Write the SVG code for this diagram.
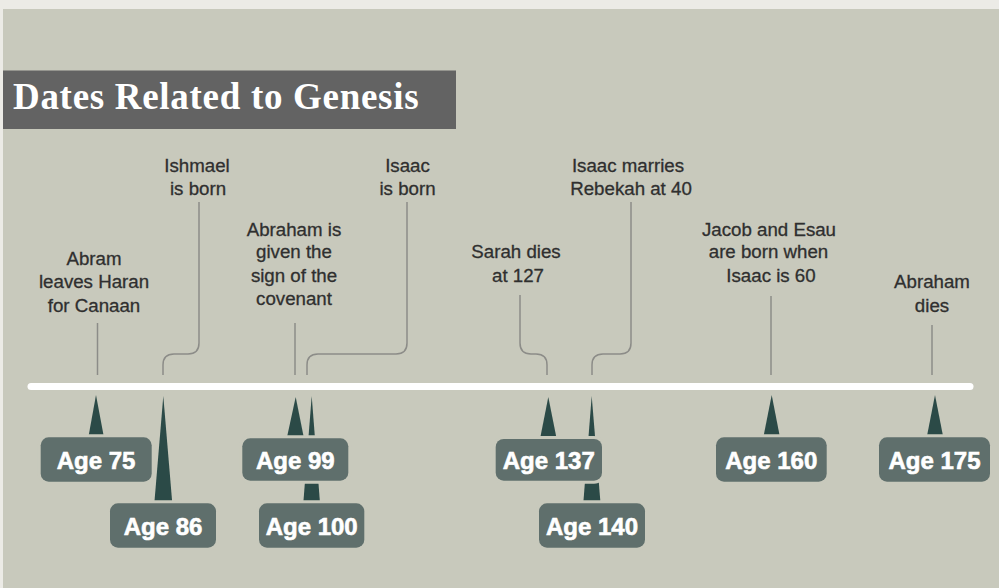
<svg xmlns="http://www.w3.org/2000/svg" width="999" height="588" viewBox="0 0 999 588">
<style>
.lbl{font-family:"Liberation Sans",Arial,sans-serif;font-size:18.7px;fill:#2f2f2f;stroke:#2f2f2f;stroke-width:0.3;text-anchor:middle}
.lead{fill:none;stroke:#8c8c88;stroke-width:1.5}
.spike{fill:#2b4a47}
.box{fill:#5f6f6c;stroke:#c8c9bc;stroke-width:6;paint-order:stroke}
.age{font-family:"Liberation Sans",Arial,sans-serif;font-weight:bold;font-size:24px;fill:#ffffff;stroke:#ffffff;stroke-width:0.6;text-anchor:middle}
</style>
<rect x="0" y="0" width="999" height="588" fill="#ecebe6"/>
<rect x="3" y="9" width="996" height="579" fill="#c8c9bc"/>
<g id="title">
<rect x="3" y="70.5" width="453" height="58.5" fill="#636363"/>
<text x="13" y="108.5" font-family="'Liberation Serif','Times New Roman',serif" font-weight="bold" font-size="37" letter-spacing="0.7" fill="#ffffff">Dates Related to Genesis</text>
</g>
<line id="timeline" x1="31" y1="386.5" x2="970" y2="386.5" stroke="#ffffff" stroke-width="7" stroke-linecap="round"/>
<g id="connectors">
<path class="lead" d="M97.5 323 V375"/>
<path class="lead" d="M199 202 V343 Q199 354 188 354 H174 Q163 354 163 365 V375"/>
<path class="lead" d="M295 323 V375"/>
<path class="lead" d="M407 202 V343 Q407 354 396 354 H318 Q307 354 307 365 V375"/>
<path class="lead" d="M520 295 V343 Q520 354 531 354 H536 Q547 354 547 365 V375"/>
<path class="lead" d="M631 202 V343 Q631 354 620 354 H603 Q592 354 592 365 V375"/>
<path class="lead" d="M771 296 V375"/>
<path class="lead" d="M932 325 V375"/>
</g>
<g id="age100">
<polygon class="spike" points="311.7,396 320,503 303.3,503"/>
<rect class="box" x="259" y="503.3" width="105.3" height="44.4" rx="8"/>
<text class="age" x="311.7" y="535">Age 100</text>
</g>
<g id="age140">
<polygon class="spike" points="591.7,396 600.5,503 583.3,503"/>
<rect class="box" x="539" y="503.3" width="106" height="44.4" rx="8"/>
<text class="age" x="592" y="535">Age 140</text>
</g>
<g id="age75">
<text class="lbl" x="94" y="265">Abram</text>
<text class="lbl" x="94" y="288.3">leaves Haran</text>
<text class="lbl" x="94" y="311.7">for Canaan</text>
<polygon class="spike" points="96,395 104,437.5 88.3,437.5"/>
<rect class="box" x="40.7" y="437.3" width="111" height="44.4" rx="8"/>
<text class="age" x="96" y="469.3">Age 75</text>
</g>
<g id="age86">
<text class="lbl" x="197" y="171.7">Ishmael</text>
<text class="lbl" x="198" y="195">is born</text>
<polygon class="spike" points="163.3,396 172.3,503.5 154.3,503.5"/>
<rect class="box" x="110" y="503.3" width="106" height="44.4" rx="8"/>
<text class="age" x="163" y="535">Age 86</text>
</g>
<g id="age99">
<text class="lbl" x="294" y="236">Abraham is</text>
<text class="lbl" x="294" y="258.3">given the</text>
<text class="lbl" x="294" y="281.7">sign of the</text>
<text class="lbl" x="294" y="305">covenant</text>
<polygon class="spike" points="295.7,397 304,438.5 286.7,438.5"/>
<rect class="box" x="242.3" y="438.3" width="106" height="42.4" rx="8"/>
<text class="age" x="295.3" y="469.3">Age 99</text>
</g>
<g id="isaac-born">
<text class="lbl" x="407.5" y="171.7">Isaac</text>
<text class="lbl" x="407.5" y="195">is born</text>
</g>
<g id="age137">
<text class="lbl" x="516" y="258.3">Sarah dies</text>
<text class="lbl" x="518" y="281.7">at 127</text>
<polygon class="spike" points="548.3,397 556.7,439 540,439"/>
<rect class="box" x="495.7" y="439" width="106.3" height="41.7" rx="8"/>
<text class="age" x="548.8" y="469.3">Age 137</text>
</g>
<g id="isaac-marries">
<text class="lbl" x="628" y="171.7">Isaac marries</text>
<text class="lbl" x="631" y="195">Rebekah at 40</text>
</g>
<g id="age160">
<text class="lbl" x="769" y="236">Jacob and Esau</text>
<text class="lbl" x="768.5" y="258.3">are born when</text>
<text class="lbl" x="771" y="281.7">Isaac is 60</text>
<polygon class="spike" points="771.7,395 780,437.5 763.3,437.5"/>
<rect class="box" x="716" y="437.3" width="110.7" height="44.4" rx="8"/>
<text class="age" x="771.3" y="469.3">Age 160</text>
</g>
<g id="age175">
<text class="lbl" x="932" y="288.3">Abraham</text>
<text class="lbl" x="932" y="311.7">dies</text>
<polygon class="spike" points="935,395 943.3,437.5 926.7,437.5"/>
<rect class="box" x="879" y="437.3" width="111" height="44.4" rx="8"/>
<text class="age" x="934.5" y="469.3">Age 175</text>
</g>
</svg>
